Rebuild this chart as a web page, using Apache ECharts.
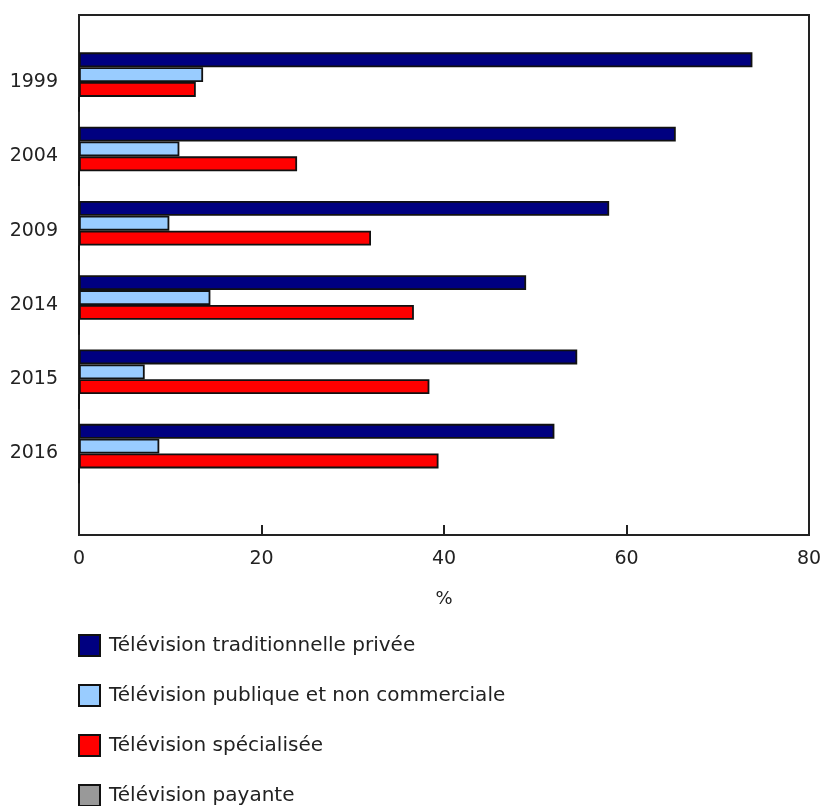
<!DOCTYPE html>
<html lang="fr">
<head>
<meta charset="utf-8">
<title>Télévision</title>
<script src="https://cdn.jsdelivr.net/npm/echarts@6/dist/echarts.min.js"></script>
<style>
  html, body { margin: 0; padding: 0; background: #fff; }
  #chart { width: 823px; height: 806px; }
</style>
</head>
<body>
<div id="chart"></div>
<script>
// Years shown on the vertical axis, top to bottom
const years = ['1999', '2004', '2009', '2014', '2015', '2016'];

// Share (%) by type of service
const priveeTraditionnelle = [73.8, 65.4, 58.1, 49.0, 54.6, 52.1];
const publiqueNonCommerciale = [13.6, 11.0, 9.9, 14.4, 7.2, 8.8];
const specialisee = [12.8, 23.9, 32.0, 36.7, 38.4, 39.4];
const payante = [0, 0, 0, 0, 0, 0];

// Value axis ticks
const xTicks = [0, 20, 40, 60, 80];

const seriesNames = [
  'Télévision traditionnelle privée',
  'Télévision publique et non commerciale',
  'Télévision spécialisée',
  'Télévision payante'
];
const seriesData = [priveeTraditionnelle, publiqueNonCommerciale, specialisee, payante];
const seriesColors = ['#000080', '#99ccff', '#ff0000', '#999999'];

const FONT = 'DejaVu Sans, Verdana, sans-serif';
const TEXT = '#222222';

const chart = echarts.init(document.getElementById('chart'), null, { renderer: 'canvas' });

chart.setOption({
  animation: false,
  backgroundColor: '#ffffff',
  textStyle: { fontFamily: FONT, color: TEXT },
  grid: [
    // outer frame with the value axis
    { left: 79, top: 15, width: 730, height: 520, show: true, borderColor: '#222', borderWidth: 2,
      containLabel: false, outerBoundsMode: 'none' },
    // inner band area holding the bar groups
    { left: 79, top: 44.9, width: 730, height: 445.8, containLabel: false, outerBoundsMode: 'none' }
  ],
  xAxis: [
    {
      gridIndex: 0, type: 'value', min: xTicks[0], max: xTicks[xTicks.length - 1], interval: 20,
      name: '%', nameLocation: 'middle', nameGap: 55,
      nameTextStyle: { fontFamily: FONT, fontSize: 18, color: TEXT },
      axisLine: { show: true, lineStyle: { color: '#222', width: 2 } },
      axisTick: { show: true, inside: true, length: 10, lineStyle: { color: '#222', width: 2 } },
      axisLabel: { fontFamily: FONT, fontSize: 19, color: TEXT, margin: 15 },
      splitLine: { show: false }
    },
    { gridIndex: 1, type: 'value', min: 0, max: 80, show: false }
  ],
  yAxis: [
    { gridIndex: 0, type: 'value', show: false },
    {
      gridIndex: 1, type: 'category', data: years, inverse: true,
      axisLine: { show: false }, axisTick: { show: false },
      axisLabel: { fontFamily: FONT, fontSize: 19, color: TEXT, margin: 21 },
      splitLine: { show: false }
    }
  ],
  legend: {
    orient: 'vertical', left: 78, top: 634, height: 200, padding: 0,
    itemWidth: 21, itemHeight: 21, itemGap: 27,
    icon: 'rect',
    textStyle: { fontFamily: FONT, fontSize: 20, color: TEXT, padding: [0, 0, 0, 4] },
    data: seriesNames
  },
  series: seriesNames.map((name, i) => ({
    name,
    type: 'bar',
    xAxisIndex: 1,
    yAxisIndex: 1,
    data: seriesData[i],
    barGap: '0%',
    barCategoryGap: '20%',
    itemStyle: { color: seriesColors[i], borderColor: '#111', borderWidth: 1.8 }
  }))
});
</script>
</body>
</html>
